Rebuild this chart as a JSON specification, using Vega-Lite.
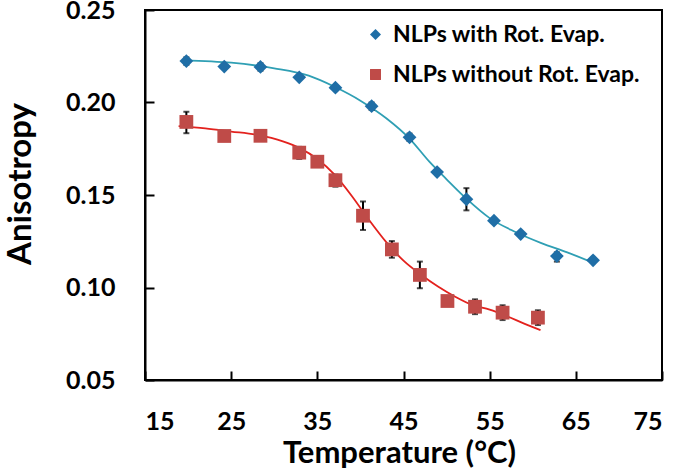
{
  "$schema": "https://vega.github.io/schema/vega-lite/v6.json",
  "width": 517,
  "height": 370,
  "autosize": {"type": "none"},
  "padding": {"left": 145, "top": 10, "right": 15, "bottom": 92},
  "background": "white",
  "config": {
    "view": {"stroke": "black", "strokeWidth": 2},
    "font": "Lato"
  },
  "datasets": {
    "pts": [
      {"series": "NLPs with Rot. Evap.", "T": 19.8, "A": 0.2224, "lo": 0.2204, "hi": 0.2244},
      {"series": "NLPs with Rot. Evap.", "T": 24.2, "A": 0.2194},
      {"series": "NLPs with Rot. Evap.", "T": 28.4, "A": 0.2192, "lo": 0.2172, "hi": 0.2212},
      {"series": "NLPs with Rot. Evap.", "T": 32.9, "A": 0.2136},
      {"series": "NLPs with Rot. Evap.", "T": 37.1, "A": 0.2080},
      {"series": "NLPs with Rot. Evap.", "T": 41.3, "A": 0.1980, "lo": 0.1960, "hi": 0.2000},
      {"series": "NLPs with Rot. Evap.", "T": 45.7, "A": 0.1812, "lo": 0.1792, "hi": 0.1832},
      {"series": "NLPs with Rot. Evap.", "T": 48.9, "A": 0.1624},
      {"series": "NLPs with Rot. Evap.", "T": 52.3, "A": 0.1477, "lo": 0.1417, "hi": 0.1537},
      {"series": "NLPs with Rot. Evap.", "T": 55.5, "A": 0.1361},
      {"series": "NLPs with Rot. Evap.", "T": 58.6, "A": 0.1289},
      {"series": "NLPs with Rot. Evap.", "T": 62.8, "A": 0.1170, "lo": 0.1140, "hi": 0.1190},
      {"series": "NLPs with Rot. Evap.", "T": 67.0, "A": 0.1147},
      {"series": "NLPs without Rot. Evap.", "T": 19.8, "A": 0.1895, "lo": 0.1834, "hi": 0.1950},
      {"series": "NLPs without Rot. Evap.", "T": 24.2, "A": 0.1819},
      {"series": "NLPs without Rot. Evap.", "T": 28.4, "A": 0.1820, "lo": 0.1800, "hi": 0.1840},
      {"series": "NLPs without Rot. Evap.", "T": 32.9, "A": 0.1729, "lo": 0.1695, "hi": 0.1760},
      {"series": "NLPs without Rot. Evap.", "T": 35.0, "A": 0.1680},
      {"series": "NLPs without Rot. Evap.", "T": 37.1, "A": 0.1580, "lo": 0.1545, "hi": 0.1610},
      {"series": "NLPs without Rot. Evap.", "T": 40.3, "A": 0.1388, "lo": 0.1311, "hi": 0.1465},
      {"series": "NLPs without Rot. Evap.", "T": 43.65, "A": 0.1206, "lo": 0.1161, "hi": 0.1251},
      {"series": "NLPs without Rot. Evap.", "T": 46.9, "A": 0.1068, "lo": 0.0996, "hi": 0.1140},
      {"series": "NLPs without Rot. Evap.", "T": 50.1, "A": 0.0927, "lo": 0.0905, "hi": 0.0945},
      {"series": "NLPs without Rot. Evap.", "T": 53.3, "A": 0.0896, "lo": 0.0856, "hi": 0.0936},
      {"series": "NLPs without Rot. Evap.", "T": 56.5, "A": 0.0864, "lo": 0.0824, "hi": 0.0904},
      {"series": "NLPs without Rot. Evap.", "T": 60.6, "A": 0.0837, "lo": 0.0797, "hi": 0.0877}
    ],
    "fitWith": [
      {"T": 19.5, "A": 0.2228}, {"T": 25, "A": 0.2215}, {"T": 30, "A": 0.2185},
      {"T": 34, "A": 0.2145}, {"T": 37, "A": 0.2085}, {"T": 40, "A": 0.2010},
      {"T": 43, "A": 0.1915}, {"T": 45.7, "A": 0.1805}, {"T": 48, "A": 0.1680},
      {"T": 50, "A": 0.1585}, {"T": 52.3, "A": 0.1480}, {"T": 55, "A": 0.1375},
      {"T": 58, "A": 0.1300}, {"T": 61, "A": 0.1240}, {"T": 64, "A": 0.1190},
      {"T": 67.2, "A": 0.1130}
    ],
    "fitWithout": [
      {"T": 18.9, "A": 0.1872}, {"T": 22, "A": 0.1860}, {"T": 25, "A": 0.1843},
      {"T": 28, "A": 0.1825}, {"T": 31, "A": 0.1790}, {"T": 33, "A": 0.1752},
      {"T": 35, "A": 0.1695}, {"T": 37, "A": 0.1610}, {"T": 39, "A": 0.1495},
      {"T": 41, "A": 0.1365}, {"T": 43, "A": 0.1245}, {"T": 45, "A": 0.1145},
      {"T": 47, "A": 0.1070}, {"T": 49, "A": 0.1005}, {"T": 51, "A": 0.0950},
      {"T": 53, "A": 0.0905}, {"T": 55, "A": 0.0880}, {"T": 57, "A": 0.0845},
      {"T": 59, "A": 0.0805}, {"T": 60.9, "A": 0.0770}
    ]
  },
  "encoding": {
    "x": {
      "field": "T", "type": "quantitative",
      "scale": {"domain": [15, 75], "nice": false},
      "axis": {
        "values": [15, 25, 35, 45, 55, 65, 75],
        "title": "Temperature (°C)",
        "grid": false,
        "domainColor": "black", "domainWidth": 2,
        "ticks": true, "tickSize": -9, "tickColor": "black", "tickWidth": 2,
        "labelFont": "Lato", "labelFontWeight": "bold", "labelFontSize": 25, "labelColor": "black",
        "labelPadding": 38,
        "titleFont": "Lato", "titleFontWeight": "bold", "titleFontSize": 31, "titleColor": "black",
        "titleX": 254, "titleY": 82, "titleAlign": "center", "titleBaseline": "alphabetic"
      }
    },
    "y": {
      "field": "A", "type": "quantitative",
      "scale": {"domain": [0.05, 0.25], "nice": false},
      "axis": {
        "values": [0.05, 0.10, 0.15, 0.20, 0.25],
        "format": ".2f",
        "title": "Anisotropy",
        "grid": false,
        "domainColor": "black", "domainWidth": 2,
        "ticks": true, "tickSize": -9, "tickColor": "black", "tickWidth": 2,
        "labelFont": "Lato", "labelFontWeight": "bold", "labelFontSize": 25, "labelColor": "black",
        "labelPadding": 39,
        "titleFont": "Lato", "titleFontWeight": "bold", "titleFontSize": 33, "titleColor": "black",
        "titleX": -115, "titleY": 173.5, "titleAlign": "center", "titleBaseline": "alphabetic", "titleAngle": -90
      }
    }
  },
  "layer": [
    {
      "data": {"name": "fitWith"},
      "mark": {"type": "line", "color": "#2f9fb4", "strokeWidth": 1.8, "interpolate": "monotone"},
      "encoding": {}
    },
    {
      "data": {"name": "fitWithout"},
      "mark": {"type": "line", "color": "#e3211d", "strokeWidth": 1.8, "interpolate": "monotone"},
      "encoding": {}
    },
    {
      "data": {"name": "pts"},
      "mark": {"type": "rule", "color": "black", "strokeWidth": 2},
      "encoding": {
        "y": {"field": "lo", "type": "quantitative"},
        "y2": {"field": "hi"}
      }
    },
    {
      "data": {"name": "pts"},
      "mark": {"type": "tick", "orient": "horizontal", "color": "black", "size": 6, "thickness": 2},
      "encoding": {"y": {"field": "lo", "type": "quantitative"}}
    },
    {
      "data": {"name": "pts"},
      "mark": {"type": "tick", "orient": "horizontal", "color": "black", "size": 6, "thickness": 2},
      "encoding": {"y": {"field": "hi", "type": "quantitative"}}
    },
    {
      "data": {"name": "pts"},
      "mark": {"type": "point", "filled": true, "opacity": 1, "size": 190},
      "encoding": {
        "color": {
          "field": "series", "type": "nominal",
          "scale": {"domain": ["NLPs with Rot. Evap.", "NLPs without Rot. Evap."], "range": ["#1f6ea6", "#bf4b48"]},
          "legend": {
            "title": null,
            "orient": "none",
            "legendX": 219,
            "legendY": 13,
            "padding": 0,
            "symbolSize": 120,
            "symbolOpacity": 1,
            "labelFont": "Lato",
            "labelFontWeight": "bold",
            "labelFontSize": 23,
            "labelColor": "black",
            "labelOffset": 6,
            "rowPadding": 16,
            "labelLimit": 400
          }
        },
        "shape": {
          "field": "series", "type": "nominal",
          "scale": {"domain": ["NLPs with Rot. Evap.", "NLPs without Rot. Evap."], "range": ["diamond", "square"]},
          "legend": null
        }
      }
    }
  ]
}
